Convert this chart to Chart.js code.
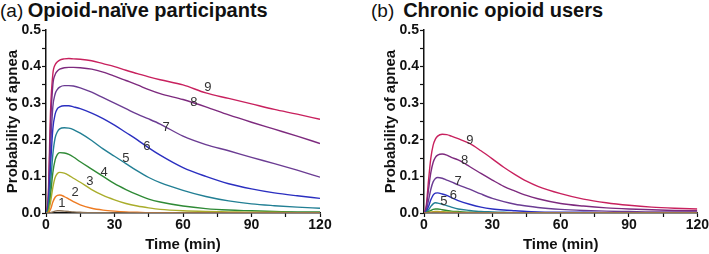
<!DOCTYPE html>
<html>
<head>
<meta charset="utf-8">
<script src="https://cdn.jsdelivr.net/npm/chart.js@4"></script>
<style>
  body { margin: 0; background: #fff; width: 709px; height: 254px; position: relative; overflow: hidden; font-family: "Liberation Sans", Arial, sans-serif; }
  .title { position: absolute; top: -1px; white-space: nowrap; color: #111; }
  .title .tag { font-size: 19px; font-weight: normal; }
  .title .name { font-size: 20px; font-weight: bold; }
  .panel { position: absolute; top: 0; height: 254px; }
</style>
</head>
<body>
<div class="title" style="left:0px"><span class="tag">(a)</span> <span class="name">Opioid-naïve participants</span></div>
<div class="title" style="left:371px"><span class="tag">(b)</span>&nbsp; <span class="name">Chronic opioid users</span></div>
<div class="panel" style="left:0px;width:355px"><canvas id="chartA"></canvas></div>
<div class="panel" style="left:378px;width:331px"><canvas id="chartB"></canvas></div>
<script>
const times = [0, 1, 2, 3, 4, 5, 6, 8, 10, 12, 15, 20, 25, 30, 35, 40, 45, 50, 60, 70, 80, 90, 100, 110, 120];
const doseLabels = ["1", "2", "3", "4", "5", "6", "7", "8", "9"];
const doseColors = ["#8c7256", "#ee7b22", "#a9ad2b", "#2f8a36", "#227f94", "#2b2fc0", "#6b3c93", "#7d2a7e", "#c8215e"];

// (a) opioid-naive
const naive1 = [0, 0, 0.001, 0.003, 0.005, 0.006, 0.006, 0.005, 0.004, 0.003, 0.002, 0.001, 0.001, 0, 0, 0, 0, 0, 0, 0, 0, 0, 0, 0, 0];
const naive2 = [0, 0.001, 0.01, 0.03, 0.043, 0.048, 0.049, 0.045, 0.038, 0.031, 0.022, 0.013, 0.008, 0.005, 0.003, 0.002, 0.001, 0.001, 0, 0, 0, 0, 0, 0, 0];
const naive3 = [0, 0.003, 0.03, 0.07, 0.097, 0.108, 0.111, 0.109, 0.103, 0.095, 0.084, 0.064, 0.048, 0.036, 0.026, 0.019, 0.014, 0.01, 0.006, 0.004, 0.003, 0.002, 0.002, 0.001, 0.001];
const naive4 = [0, 0.006, 0.05, 0.11, 0.145, 0.16, 0.165, 0.164, 0.16, 0.153, 0.14, 0.12, 0.1, 0.08, 0.064, 0.05, 0.038, 0.03, 0.019, 0.012, 0.008, 0.006, 0.004, 0.003, 0.003];
const naive5 = [0, 0.012, 0.08, 0.16, 0.205, 0.222, 0.23, 0.233, 0.232, 0.228, 0.218, 0.198, 0.175, 0.155, 0.135, 0.115, 0.097, 0.083, 0.062, 0.045, 0.033, 0.025, 0.02, 0.016, 0.013];
const naive6 = [0, 0.02, 0.13, 0.23, 0.27, 0.285, 0.29, 0.293, 0.293, 0.29, 0.285, 0.273, 0.258, 0.24, 0.22, 0.2, 0.178, 0.158, 0.124, 0.1, 0.08, 0.066, 0.055, 0.047, 0.04];
const naive7 = [0, 0.03, 0.18, 0.29, 0.325, 0.338, 0.344, 0.348, 0.348, 0.347, 0.342, 0.33, 0.315, 0.3, 0.285, 0.27, 0.257, 0.243, 0.21, 0.187, 0.17, 0.152, 0.135, 0.117, 0.098];
const naive8 = [0, 0.04, 0.24, 0.35, 0.378, 0.388, 0.393, 0.397, 0.398, 0.398, 0.397, 0.393, 0.385, 0.374, 0.362, 0.35, 0.337, 0.326, 0.31, 0.29, 0.268, 0.248, 0.229, 0.21, 0.19];
const naive9 = [0, 0.05, 0.28, 0.38, 0.405, 0.413, 0.418, 0.421, 0.422, 0.421, 0.42, 0.416, 0.408, 0.4, 0.39, 0.381, 0.372, 0.364, 0.35, 0.328, 0.313, 0.298, 0.283, 0.27, 0.256];

// (b) chronic users
const chronic1 = [0, 0, 0.0002, 0.0004, 0.0005, 0.0005, 0.0005, 0.0004, 0.0003, 0.0002, 0.0001, 0, 0, 0, 0, 0, 0, 0, 0, 0, 0, 0, 0, 0, 0];
const chronic2 = [0, 0, 0.0005, 0.001, 0.0014, 0.0015, 0.0015, 0.0013, 0.001, 0.0008, 0.0006, 0.0003, 0.0002, 0.0001, 0, 0, 0, 0, 0, 0, 0, 0, 0, 0, 0];
const chronic3 = [0, 0.0005, 0.0015, 0.003, 0.0037, 0.004, 0.004, 0.0035, 0.003, 0.0024, 0.0018, 0.001, 0.0006, 0.0004, 0.0003, 0.0002, 0.0001, 0, 0, 0, 0, 0, 0, 0, 0];
const chronic4 = [0, 0.001, 0.004, 0.007, 0.01, 0.011, 0.011, 0.009, 0.007, 0.005, 0.004, 0.002, 0.001, 0.001, 0, 0, 0, 0, 0, 0, 0, 0, 0, 0, 0];
const chronic5 = [0, 0.002, 0.009, 0.018, 0.025, 0.028, 0.027, 0.024, 0.02, 0.016, 0.011, 0.007, 0.004, 0.003, 0.002, 0.001, 0.001, 0.001, 0, 0, 0, 0, 0, 0, 0];
const chronic6 = [0, 0.004, 0.018, 0.036, 0.049, 0.054, 0.055, 0.052, 0.048, 0.042, 0.034, 0.024, 0.016, 0.011, 0.008, 0.006, 0.004, 0.003, 0.002, 0.002, 0.001, 0.001, 0.001, 0.001, 0.001];
const chronic7 = [0, 0.008, 0.035, 0.065, 0.085, 0.094, 0.097, 0.095, 0.09, 0.085, 0.077, 0.065, 0.052, 0.04, 0.031, 0.024, 0.019, 0.015, 0.01, 0.007, 0.005, 0.004, 0.003, 0.003, 0.003];
const chronic8 = [0, 0.015, 0.065, 0.11, 0.138, 0.152, 0.158, 0.161, 0.158, 0.152, 0.145, 0.127, 0.108, 0.09, 0.073, 0.06, 0.048, 0.039, 0.026, 0.019, 0.014, 0.011, 0.009, 0.007, 0.006];
const chronic9 = [0, 0.02, 0.09, 0.15, 0.185, 0.202, 0.21, 0.215, 0.214, 0.21, 0.203, 0.19, 0.17, 0.148, 0.125, 0.105, 0.087, 0.073, 0.053, 0.038, 0.028, 0.021, 0.016, 0.013, 0.011];

// curve label anchors [time, probability]
const naiveLabelPos = [[6.9, 0.025], [12.7, 0.055], [19.2, 0.085], [25.4, 0.112], [35, 0.148], [44.2, 0.183], [52.6, 0.235], [64.8, 0.301], [70.9, 0.342]];
const chronicLabelPos = [null, null, null, null, [8.7, 0.031], [12.9, 0.047], [15, 0.086], [17.8, 0.145], [20.1, 0.198]];

const xTicks = [0, 30, 60, 90, 120];
const yTicks = [0, 0.1, 0.2, 0.3, 0.4, 0.5];

const curveLabels = {
  id: "curveLabels",
  afterDatasetsDraw(chart, args, opts) {
    const ctx = chart.ctx;
    ctx.save();
    ctx.font = "13px 'Liberation Sans', Arial, sans-serif";
    ctx.fillStyle = "#333";
    ctx.textAlign = "center";
    ctx.textBaseline = "middle";
    opts.positions.forEach((p, i) => {
      if (!p) return;
      ctx.fillText(doseLabels[i], chart.scales.x.getPixelForValue(p[0]), chart.scales.y.getPixelForValue(p[1]));
    });
    ctx.restore();
  }
};

function makeChart(id, series, labelPos, padRight) {
  return new Chart(document.getElementById(id), {
    type: "line",
    data: {
      datasets: series.map((vals, i) => ({
        label: doseLabels[i],
        data: vals.map((v, k) => ({ x: times[k], y: v })),
        borderColor: doseColors[i],
        borderWidth: 1.4,
        pointRadius: 0,
        cubicInterpolationMode: "monotone",
        fill: false,
      })),
    },
    options: {
      responsive: true,
      maintainAspectRatio: false,
      animation: false,
      layout: { padding: { top: 30, right: padRight, left: 0, bottom: 0 } },
      plugins: {
        legend: { display: false },
        tooltip: { enabled: false },
        curveLabels: { positions: labelPos },
      },
      scales: {
        x: {
          type: "linear",
          min: 0,
          max: 120,
          afterFit: (s) => { s.height = 41; },
          border: { color: "#111", width: 1.5 },
          grid: { drawOnChartArea: false, tickLength: 4, tickColor: "#111", tickWidth: 1.2 },
          ticks: {
            stepSize: 15,
            autoSkip: false,
            maxRotation: 0,
            padding: 0,
            color: "#111",
            font: { family: "'Liberation Sans', Arial, sans-serif", size: 14, weight: "bold" },
            callback: (v) => (xTicks.includes(v) ? String(v) : ""),
          },
          title: {
            display: true,
            text: "Time (min)",
            color: "#111",
            padding: { top: 1, bottom: 0 },
            font: { family: "'Liberation Sans', Arial, sans-serif", size: 15, weight: "bold" },
          },
        },
        y: {
          min: 0,
          max: 0.5,
          afterFit: (s) => { s.width = 46; },
          border: { color: "#111", width: 1.5 },
          grid: { drawOnChartArea: false, tickLength: 4, tickColor: "#111", tickWidth: 1.2 },
          ticks: {
            stepSize: 0.05,
            autoSkip: false,
            padding: 1,
            color: "#111",
            font: { family: "'Liberation Sans', Arial, sans-serif", size: 14, weight: "bold" },
            callback: (v) => {
              const r = Math.round(v * 100) / 100;
              return yTicks.some((t) => Math.abs(t - r) < 1e-9) ? r.toFixed(1) : "";
            },
          },
          title: {
            display: true,
            text: "Probability of apnea",
            color: "#111",
            padding: { top: 4, bottom: 0 },
            font: { family: "'Liberation Sans', Arial, sans-serif", size: 15, weight: "bold" },
          },
        },
      },
    },
    plugins: [curveLabels],
  });
}

makeChart("chartA", [naive1, naive2, naive3, naive4, naive5, naive6, naive7, naive8, naive9], naiveLabelPos, 35);
makeChart("chartB", [chronic1, chronic2, chronic3, chronic4, chronic5, chronic6, chronic7, chronic8, chronic9], chronicLabelPos, 11);
</script>
</body>
</html>
